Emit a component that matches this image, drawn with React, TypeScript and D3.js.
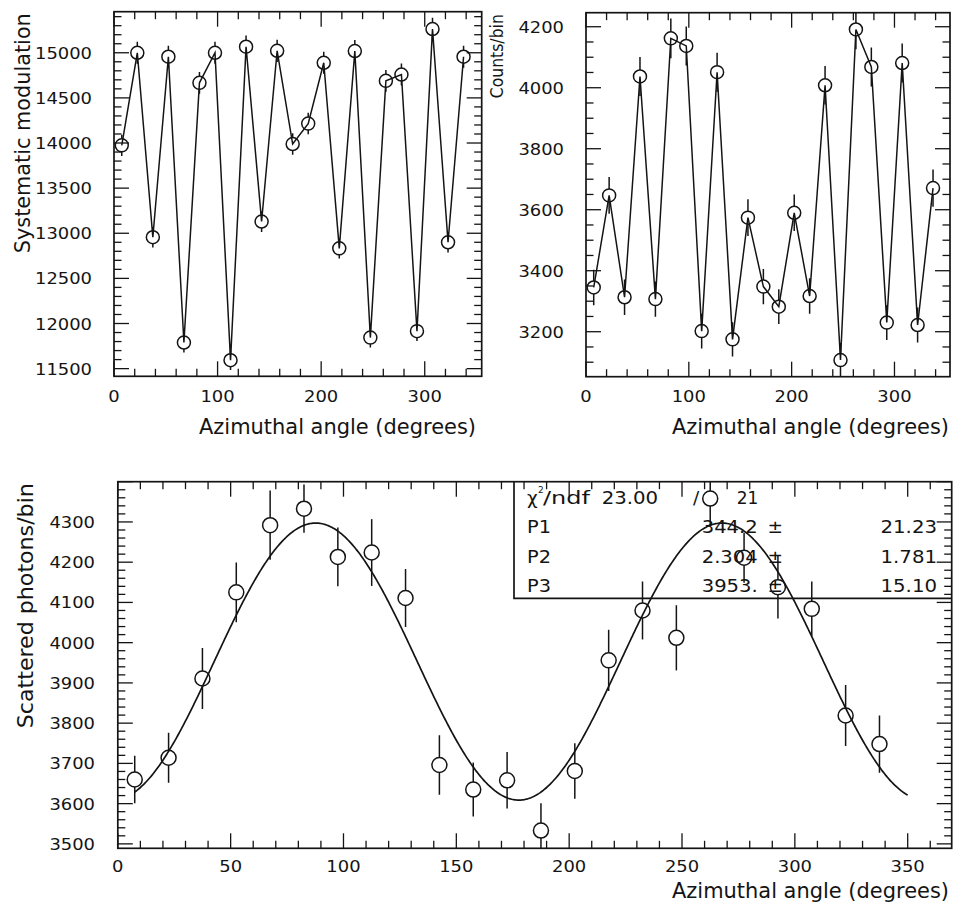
import React from 'react';
import * as d3 from 'd3';

// ---------- data ----------
const ANGLES = [7.5, 22.5, 37.5, 52.5, 67.5, 82.5, 97.5, 112.5, 127.5, 142.5, 157.5, 172.5,
  187.5, 202.5, 217.5, 232.5, 247.5, 262.5, 277.5, 292.5, 307.5, 322.5, 337.5];

const SYS_MOD = [13974, 15000, 12956, 14956, 11789, 14667, 15000, 11593, 15067, 13130, 15022, 13989,
  14215, 14889, 12833, 15019, 11844, 14689, 14759, 11915, 15263, 12900, 14956];
const SYS_ERR = [118, 122, 114, 122, 109, 121, 122, 108, 123, 115, 123, 118,
  119, 122, 113, 123, 109, 121, 121, 109, 124, 114, 122];

const COUNTS = [3345, 3647, 3313, 4037, 3307, 4162, 4137, 3202, 4051, 3175, 3574, 3348,
  3282, 3590, 3317, 4008, 3107, 4191, 4068, 3230, 4081, 3222, 3671];
const COUNTS_ERR = [58, 60, 58, 64, 58, 65, 64, 57, 64, 56, 60, 58,
  57, 60, 58, 63, 56, 65, 64, 57, 64, 57, 61];

const SCAT = [3660, 3714, 3911, 4125, 4292, 4333, 4213, 4224, 4111, 3696, 3635, 3658,
  3533, 3681, 3956, 4080, 4012, 4358, 4211, 4138, 4084, 3819, 3748];
const SCAT_ERR = [59, 62, 76, 74, 86, 60, 73, 83, 72, 74, 67, 70,
  68, 69, 76, 72, 81, 70, 62, 78, 68, 76, 71];

const FIT_P1 = 344.2;
const FIT_P2 = 2.304;
const FIT_P3 = 3953;
const FIT_RANGE = [7.5, 350];

const TL_YTICKS = [11500, 12000, 12500, 13000, 13500, 14000, 14500, 15000];
const TR_YTICKS = [3200, 3400, 3600, 3800, 4000, 4200];
const B_YTICKS = [3500, 3600, 3700, 3800, 3900, 4000, 4100, 4200, 4300];
const TOP_XTICKS = [0, 100, 200, 300];
const B_XTICKS = [0, 50, 100, 150, 200, 250, 300, 350];

const X_TITLE = 'Azimuthal angle (degrees)';
const TL_YTITLE = 'Systematic modulation';
const TR_YTITLE = 'Counts/bin';
const B_YTITLE = 'Scattered photons/bin';

const STAT_NAMES = ['P1', 'P2', 'P3'];
const STAT_VALUES = ['344.2', '2.304', '3953.'];
const STAT_ERRORS = ['21.23', '1.781', '15.10'];
const CHI2 = '23.00';
const NDF = '21';

// ---------- drawing ----------
const INK = '#141414';
const FONT = '"DejaVu Sans", "Liberation Sans", sans-serif';

type PanelProps = {
  id: string;
  left: number; right: number; top: number; bottom: number;
  xDomain: [number, number]; yDomain: [number, number];
  xMinor: number; xMajor: number; yMinor: number; yMajor: number;
  xLabels: number[]; yLabels: number[];
  xs: number[]; ys: number[]; errs: number[];
  radius: number; connect: boolean;
  fit?: (x: number) => number; fitRange?: number[];
  xTitle: { text: string; x1: number; y: number };
  yTitle: { text: string; x: number; len: number; size: number };
  xLabelY: number; yLabelRight: number;
};

function ticksFor(domain: [number, number], step: number) {
  const start = Math.ceil(domain[0] / step - 1e-9) * step;
  return d3.range(start, domain[1] + 1e-6, step);
}

function Panel(p: PanelProps) {
  const x = d3.scaleLinear().domain(p.xDomain).range([p.left, p.right]);
  const y = d3.scaleLinear().domain(p.yDomain).range([p.bottom, p.top]);
  const MAJ = 15, MIN = 7.5;
  const xt = ticksFor(p.xDomain, p.xMinor);
  const yt = ticksFor(p.yDomain, p.yMinor);
  const isMaj = (v: number, m: number) => Math.abs(v / m - Math.round(v / m)) < 1e-6;
  const line = d3.line<number>().x((_, i) => x(p.xs[i])).y((d) => y(d));
  const digitW = 11.4;
  let fitPath = '';
  if (p.fit && p.fitRange) {
    const pts = d3.range(p.fitRange[0], p.fitRange[1] + 0.001, 0.5);
    fitPath = d3.line<number>().x((d) => x(d)).y((d) => y(p.fit!(d)))(pts) || '';
  }
  return (
    <g>
      <defs>
        <clipPath id={p.id}>
          <rect x={p.left} y={p.top} width={p.right - p.left} height={p.bottom - p.top} />
        </clipPath>
      </defs>
      <g stroke={INK} strokeWidth={1.3}>
        {xt.map((v) => {
          const L = isMaj(v, p.xMajor) ? MAJ : MIN;
          const px = x(v);
          return (
            <g key={'x' + v}>
              <line x1={px} x2={px} y1={p.bottom} y2={p.bottom - L} />
              <line x1={px} x2={px} y1={p.top} y2={p.top + L} />
            </g>
          );
        })}
        {yt.map((v) => {
          const L = isMaj(v, p.yMajor) ? MAJ : MIN;
          const py = y(v);
          return (
            <g key={'y' + v}>
              <line x1={p.left} x2={p.left + L} y1={py} y2={py} />
              <line x1={p.right} x2={p.right - L} y1={py} y2={py} />
            </g>
          );
        })}
      </g>
      <rect x={p.left} y={p.top} width={p.right - p.left} height={p.bottom - p.top}
        fill="none" stroke={INK} strokeWidth={1.7} />
      <g fill={INK} fontFamily={FONT} fontSize={16.5}>
        {p.xLabels.map((v) => {
          const s = String(v);
          return (
            <text key={'xl' + v} x={x(v)} y={p.xLabelY} textAnchor="middle"
              textLength={s.length * digitW} lengthAdjust="spacingAndGlyphs">{s}</text>
          );
        })}
        {p.yLabels.map((v) => {
          const s = String(v);
          return (
            <text key={'yl' + v} x={p.yLabelRight} y={y(v) + 6} textAnchor="end"
              textLength={s.length * digitW} lengthAdjust="spacingAndGlyphs">{s}</text>
          );
        })}
      </g>
      <text x={p.xTitle.x1} y={p.xTitle.y} textAnchor="end" fontFamily={FONT} fontSize={20.5}
        fill={INK} textLength={277} lengthAdjust="spacingAndGlyphs">{p.xTitle.text}</text>
      <text transform={`translate(${p.yTitle.x},${p.top + 1.5}) rotate(-90)`} textAnchor="end"
        fontFamily={FONT} fontSize={p.yTitle.size} fill={INK} textLength={p.yTitle.len}
        lengthAdjust="spacingAndGlyphs">{p.yTitle.text}</text>
      <g clipPath={`url(#${p.id})`} stroke={INK} fill="none" strokeWidth={1.5}>
        {p.connect && <path d={line(p.ys) || ''} />}
        {fitPath && <path d={fitPath} strokeWidth={1.7} />}
        {p.ys.map((v, i) => {
          const cx = x(p.xs[i]);
          const cy = y(v);
          const up = y(v + p.errs[i]);
          const dn = y(v - p.errs[i]);
          const r = p.radius;
          return (
            <g key={'pt' + i}>
              {cy - up > r && <line x1={cx} x2={cx} y1={up} y2={cy - r} />}
              {dn - cy > r && <line x1={cx} x2={cx} y1={cy + r} y2={dn} />}
              <circle cx={cx} cy={cy} r={r} />
            </g>
          );
        })}
      </g>
    </g>
  );
}

function StatsBox({ left, right, top, bottom }: { left: number; right: number; top: number; bottom: number }) {
  const rows = [503.5, 533.3, 562.7, 591.7];
  return (
    <g fill={INK} fontFamily={FONT} fontSize={18.5}>
      <path d={`M${left},${top} V${bottom} H${right}`} fill="none" stroke={INK} strokeWidth={1.7} />
      <text x={527} y={rows[0]}>χ</text>
      <text x={538} y={rows[0] - 11} fontSize={9}>2</text>
      <text x={543} y={rows[0]} textLength={47} lengthAdjust="spacingAndGlyphs">/ndf</text>
      <text x={601.7} y={rows[0]} textLength={56.5} lengthAdjust="spacingAndGlyphs">{CHI2}</text>
      <text x={693} y={rows[0]}>/</text>
      <text x={736.7} y={rows[0]} textLength={21.6} lengthAdjust="spacingAndGlyphs">{NDF}</text>
      {STAT_NAMES.map((n, i) => (
        <g key={n}>
          <text x={527} y={rows[i + 1]} textLength={24} lengthAdjust="spacingAndGlyphs">{n}</text>
          <text x={701.7} y={rows[i + 1]} textLength={STAT_VALUES[i].length * 11.2}
            lengthAdjust="spacingAndGlyphs">{STAT_VALUES[i]}</text>
          <text x={783} y={rows[i + 1]} textAnchor="end">±</text>
          <text x={937} y={rows[i + 1]} textAnchor="end" textLength={STAT_ERRORS[i].length * 11.3}
            lengthAdjust="spacingAndGlyphs">{STAT_ERRORS[i]}</text>
        </g>
      ))}
    </g>
  );
}

export default function App() {
  const fit = (a: number) => FIT_P3 - FIT_P1 * Math.cos((2 * (a + FIT_P2) * Math.PI) / 180);
  return (
    <svg width={954} height={910} viewBox="0 0 954 910"
      style={{ position: 'absolute', left: 0, top: 0, background: '#fff' }}>
      <rect x={0} y={0} width={954} height={910} fill="#fff" />
      <Panel id="c-tl" left={114} right={481.7} top={11.7} bottom={376.3}
        xDomain={[0, 355]} yDomain={[11415, 15455]}
        xMinor={20} xMajor={100} yMinor={100} yMajor={500}
        xLabels={TOP_XTICKS} yLabels={TL_YTICKS}
        xs={ANGLES} ys={SYS_MOD} errs={SYS_ERR} radius={6.5} connect={true}
        xTitle={{ text: X_TITLE, x1: 476, y: 434 }}
        yTitle={{ text: TL_YTITLE, x: 29.5, len: 240, size: 21 }}
        xLabelY={401.5} yLabelRight={92} />
      <Panel id="c-tr" left={586} right={950} top={12.7} bottom={376.7}
        xDomain={[0, 354]} yDomain={[3052.5, 4246]}
        xMinor={20} xMajor={100} yMinor={50} yMajor={200}
        xLabels={TOP_XTICKS} yLabels={TR_YTICKS}
        xs={ANGLES} ys={COUNTS} errs={COUNTS_ERR} radius={6.5} connect={true}
        xTitle={{ text: X_TITLE, x1: 949, y: 434 }}
        yTitle={{ text: TR_YTITLE, x: 503, len: 84, size: 18.5 }}
        xLabelY={401.5} yLabelRight={564} />
      <Panel id="c-b" left={117.8} right={951.7} top={481.7} bottom={848.3}
        xDomain={[0, 369.5]} yDomain={[3489, 4400]}
        xMinor={10} xMajor={50} yMinor={20} yMajor={100}
        xLabels={B_XTICKS} yLabels={B_YTICKS}
        xs={ANGLES} ys={SCAT} errs={SCAT_ERR} radius={7.5} connect={false}
        fit={fit} fitRange={FIT_RANGE}
        xTitle={{ text: X_TITLE, x1: 949, y: 898 }}
        yTitle={{ text: B_YTITLE, x: 33, len: 245, size: 21 }}
        xLabelY={871.5} yLabelRight={95} />
      <StatsBox left={514} right={951.7} top={481.7} bottom={598.3} />
    </svg>
  );
}
